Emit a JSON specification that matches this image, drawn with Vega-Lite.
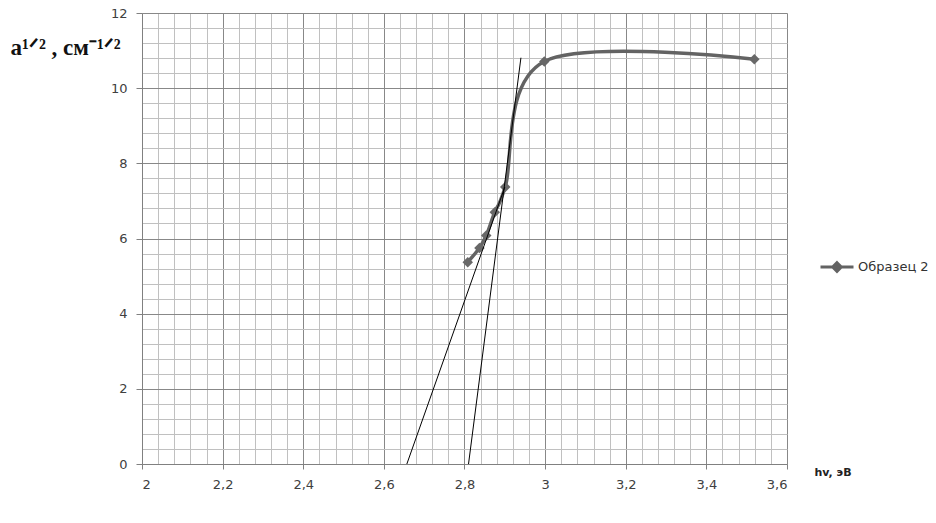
{
  "$schema": "https://vega.github.io/schema/vega-lite/v6.json",
  "width": 645,
  "height": 451,
  "autosize": "none",
  "padding": {"left": 142, "top": 13, "right": 149, "bottom": 59},
  "background": "white",
  "config": {
    "view": {"stroke": null},
    "axis": {"labelFont": "DejaVu Sans", "labelFontSize": 13, "labelColor": "#404040"}
  },
  "datasets": {
    "series": [
      {"s": "Образец 2", "hv": 2.808, "a": 5.37},
      {"s": "Образец 2", "hv": 2.837, "a": 5.75},
      {"s": "Образец 2", "hv": 2.854, "a": 6.08},
      {"s": "Образец 2", "hv": 2.875, "a": 6.70},
      {"s": "Образец 2", "hv": 2.901, "a": 7.37},
      {"s": "Образец 2", "hv": 2.998, "a": 10.71},
      {"s": "Образец 2", "hv": 3.519, "a": 10.77}
    ],
    "tangents": [
      {"t": "A", "hv": 2.657, "a": 0},
      {"t": "A", "hv": 2.9, "a": 7.37},
      {"t": "B", "hv": 2.81, "a": 0},
      {"t": "B", "hv": 2.94, "a": 10.81}
    ]
  },
  "resolve": {"axis": {"x": "independent", "y": "independent"}},
  "layer": [
    {
      "data": {"name": "series"},
      "mark": {"type": "line", "interpolate": "cardinal", "strokeWidth": 3.5, "clip": true},
      "encoding": {
        "x": {"field": "hv", "type": "quantitative",
          "scale": {"domain": [2, 3.6], "nice": false, "zero": false},
          "axis": {"orient": "bottom", "title": null, "labels": false, "ticks": false, "domain": false,
            "grid": true, "gridColor": "#c0c0c0", "gridWidth": 1,
            "values": [2.04,2.08,2.12,2.16,2.24,2.28,2.32,2.36,2.44,2.48,2.52,2.56,2.64,2.68,2.72,2.76,2.84,2.88,2.92,2.96,3.04,3.08,3.12,3.16,3.24,3.28,3.32,3.36,3.44,3.48,3.52,3.56]}},
        "y": {"field": "a", "type": "quantitative",
          "scale": {"domain": [0, 12], "nice": false, "zero": false},
          "axis": {"orient": "left", "title": null, "labels": false, "ticks": false, "domain": false,
            "grid": true, "gridColor": "#c0c0c0", "gridWidth": 1,
            "values": [0.4,0.8,1.2,1.6,2.4,2.8,3.2,3.6,4.4,4.8,5.2,5.6,6.4,6.8,7.2,7.6,8.4,8.8,9.2,9.6,10.4,10.8,11.2,11.6]}},
        "color": {"field": "s", "type": "nominal",
          "scale": {"domain": ["Образец 2"], "range": ["#636363"]},
          "legend": {"orient": "none", "legendX": 677, "legendY": 236, "title": null,
            "symbolType": "M-1,0L1,0M0,-0.26L0.26,0L0,0.26L-0.26,0Z",
            "symbolSize": 1089, "symbolStrokeWidth": 3, "labelOffset": 3,
            "labelFont": "DejaVu Sans", "labelFontSize": 13, "labelColor": "#333333", "padding": 0,
            "encode": {"symbols": {"update": {"fill": {"value": "#636363"}, "stroke": {"value": "#636363"}}}}}}
      }
    },
    {
      "data": {"name": "series"},
      "mark": {"type": "point", "shape": "diamond", "filled": true, "size": 110, "color": "#686868", "opacity": 1},
      "encoding": {
        "x": {"field": "hv", "type": "quantitative", "axis": null},
        "y": {"field": "a", "type": "quantitative", "axis": null}
      }
    },
    {
      "data": {"name": "tangents"},
      "mark": {"type": "line", "color": "black", "strokeWidth": 1},
      "encoding": {
        "x": {"field": "hv", "type": "quantitative",
          "axis": {"orient": "bottom", "values": [2,2.2,2.4,2.6,2.8,3,3.2,3.4,3.6],
            "labelExpr": "replace(format(datum.value, '.1~f'), '.', ',')",
            "labelFontSize": 13, "labelFont": "DejaVu Sans", "labelColor": "#404040",
            "grid": true, "gridColor": "#888888", "gridWidth": 1,
            "domainColor": "#808080", "tickColor": "#808080", "tickSize": 5, "labelPadding": 9,
            "title": "hv, эВ", "titleFont": "DejaVu Sans", "titleFontWeight": "bold", "titleFontSize": 11,
            "titleColor": "#222222", "titleX": 672, "titleY": 8, "titleAlign": "left", "titleBaseline": "middle", "titleAnchor": null}},
        "y": {"field": "a", "type": "quantitative",
          "axis": {"orient": "left", "values": [0,2,4,6,8,10,12], "format": "d",
            "labelFontSize": 13, "labelFont": "DejaVu Sans", "labelColor": "#404040",
            "grid": true, "gridColor": "#888888", "gridWidth": 1,
            "domainColor": "#808080", "tickColor": "#808080", "tickSize": 6, "labelPadding": 9,
            "title": "a¹ᐟ² , см⁻¹ᐟ²", "titleFont": "Liberation Serif", "titleFontWeight": "bold", "titleFontSize": 23,
            "titleColor": "#111111", "titleAngle": 0, "titleX": -132, "titleY": 41, "titleAlign": "left", "titleBaseline": "alphabetic", "titleAnchor": null}},
        "detail": {"field": "t", "type": "nominal"}
      }
    }
  ]
}
